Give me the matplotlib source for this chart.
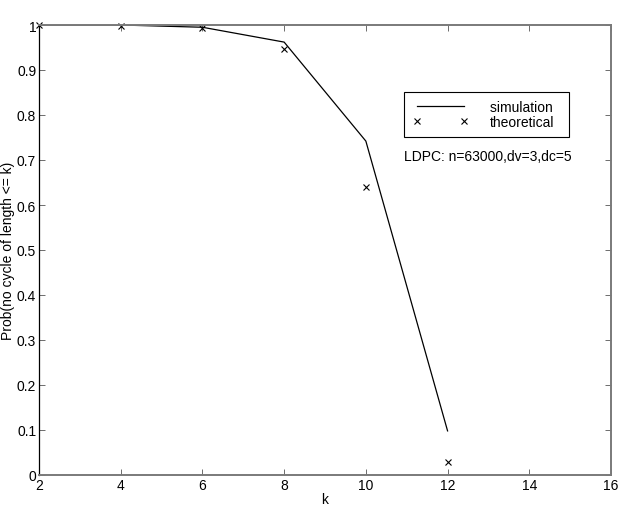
import matplotlib
matplotlib.use('Agg')
import matplotlib.pyplot as plt

plt.rcParams['font.family'] = ['Liberation Sans', 'DejaVu Sans']

k = [2, 4, 6, 8, 10, 12]
simulation = [1.0, 1.0, 0.995, 0.962, 0.742, 0.098]
theoretical = [1.0, 0.998, 0.993, 0.947, 0.641, 0.030]

fig = plt.figure(figsize=(6.23, 5.10), dpi=100)
ax = fig.add_axes([39 / 623, 1 - 476 / 510, (611 - 39) / 623, (476 - 26) / 510])

ax.plot(k, simulation, color='black', linewidth=0.9, label='simulation  ')
ax.plot(k, theoretical, linestyle='none', marker='x', color='black',
        markersize=5, markeredgewidth=0.8, label='theoretical', clip_on=False)

ax.set_xlim(2, 16)
ax.set_ylim(0, 1)
ax.set_xticks(range(2, 17, 2))
ax.set_yticks([i / 10 for i in range(11)])
ax.set_yticklabels(['0', '0.1', '0.2', '0.3', '0.4', '0.5', '0.6', '0.7', '0.8', '0.9', '1'])
ax.tick_params(direction='in', top=True, right=True, labelsize=10, length=4,
               width=0.6, pad=2, color='#555555')
ax.spines['left'].set_color('black')
ax.spines['left'].set_linewidth(0.9)
for side in ['top', 'right', 'bottom']:
    ax.spines[side].set_color('#7a7a7a')
    ax.spines[side].set_linewidth(1.4)

ax.set_xlabel('k', fontsize=10, labelpad=0)
ax.set_ylabel('Prob(no cycle of length <= k)', fontsize=10, labelpad=1)

leg = ax.legend(loc='upper left', bbox_to_anchor=((404 - 39) / 572, (476 - 93) / 450),
                numpoints=2, handlelength=4.0, fontsize=10, fancybox=False,
                edgecolor='black', framealpha=1, borderpad=0.6, labelspacing=0.05,
                handletextpad=1.6, borderaxespad=0)
leg.get_frame().set_linewidth(0.8)

ax.text(2 + (404 - 39) / 40.86, (476 - 157) / 450, 'LDPC: n=63000,dv=3,dc=5',
        fontsize=10, va='center', ha='left')

fig.savefig('out.png', dpi=100)
